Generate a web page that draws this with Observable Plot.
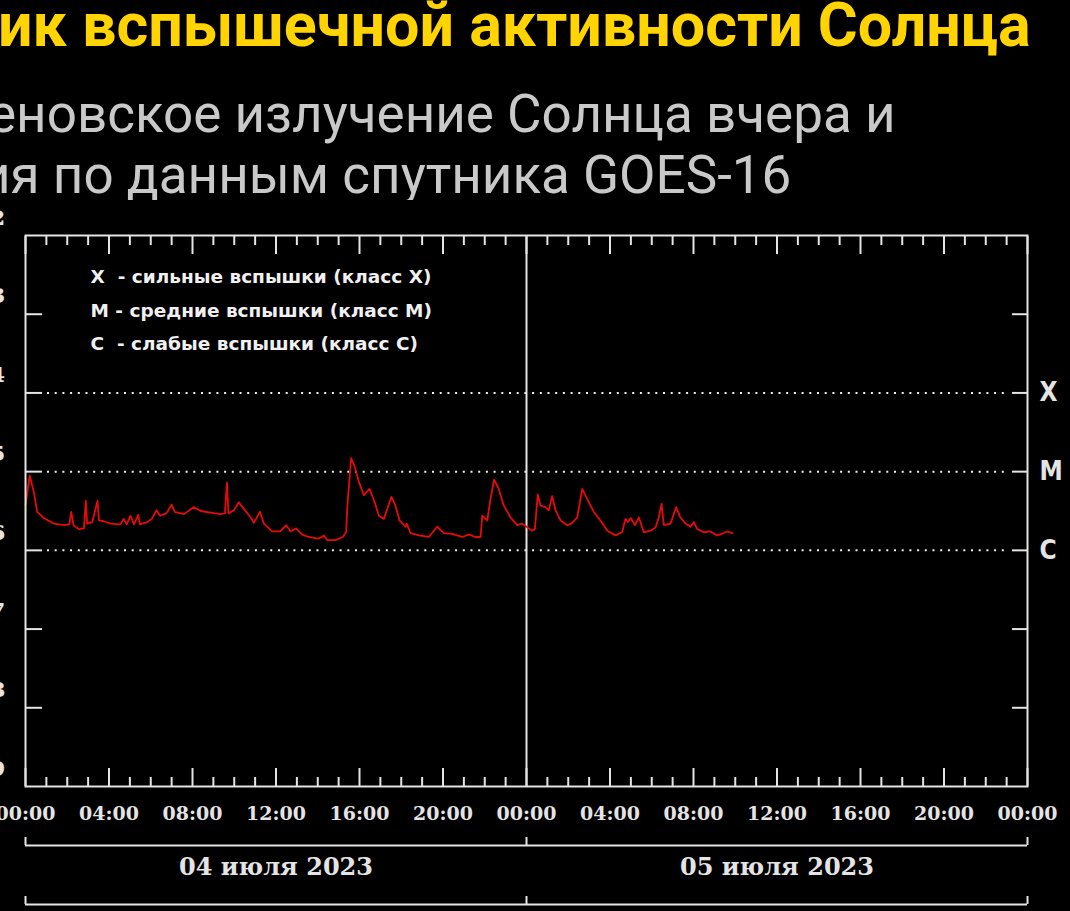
<!DOCTYPE html>
<html><head><meta charset="utf-8">
<script src="https://cdn.jsdelivr.net/npm/d3@7"></script>
<script src="https://cdn.jsdelivr.net/npm/@observablehq/plot@0.6"></script>
<style>
html,body{margin:0;padding:0;background:#000;width:1070px;height:911px;overflow:hidden;position:relative}
.title{position:absolute;left:-2px;top:-5px;font-family:Roboto;font-weight:bold;font-size:61px;line-height:61px;color:#ffd400;white-space:nowrap}
.sub{position:absolute;font-family:Roboto;font-size:53px;line-height:60px;color:#c9c9c9;white-space:nowrap}
#chart{position:absolute;left:0;top:200px}
</style></head><body>
<div class="title">ик вспышечной активности Солнца</div>
<div class="sub" style="left:-12px;top:84px">еновское излучение Солнца вчера и</div>
<div class="sub" style="left:-20px;top:145px">ия по данным спутника GOES-16</div>
<div id="chart"></div>
<script>
// hours since 2023-07-04 00:00 UTC
const hours = [0.0,0.2,0.4,0.56,0.88,1.36,1.84,2.1,2.19,2.3,2.55,2.8,2.89,2.95,3.2,3.45,3.52,3.75,4.07,4.55,4.7,4.85,5.03,5.2,5.4,5.48,5.83,6.05,6.28,6.45,6.75,7.0,7.15,7.6,8.06,8.4,8.86,9.34,9.55,9.65,9.72,9.98,10.22,10.45,10.78,10.94,11.23,11.42,11.5,11.82,12.2,12.49,12.7,12.97,13.25,13.57,14.05,14.3,14.45,14.85,15.2,15.36,15.42,15.6,15.76,15.97,16.21,16.48,16.69,16.93,17.17,17.41,17.53,17.72,17.92,18.2,18.26,18.44,18.84,19.32,19.72,20.04,20.44,20.92,21.24,21.56,21.8,21.88,22.12,22.28,22.45,22.67,22.91,23.23,23.55,23.79,24.0,24.27,24.4,24.54,24.67,24.9,25.07,25.23,25.39,25.63,25.95,26.15,26.43,26.67,26.91,27.22,27.54,27.87,28.26,28.58,28.74,28.85,28.99,29.2,29.38,29.62,29.94,30.18,30.34,30.47,30.58,30.9,31.17,31.37,31.62,31.86,32.02,32.18,32.49,32.81,33.13,33.45,33.6,33.87];
// log10 of X-ray flux (W/m²)
const logFlux = [-5.43,-5.05,-5.26,-5.51,-5.59,-5.66,-5.68,-5.67,-5.51,-5.68,-5.73,-5.72,-5.37,-5.66,-5.64,-5.37,-5.62,-5.63,-5.66,-5.67,-5.60,-5.67,-5.56,-5.67,-5.55,-5.67,-5.64,-5.60,-5.49,-5.56,-5.53,-5.42,-5.51,-5.54,-5.45,-5.50,-5.52,-5.54,-5.53,-5.14,-5.53,-5.49,-5.39,-5.47,-5.58,-5.65,-5.51,-5.66,-5.68,-5.76,-5.76,-5.68,-5.76,-5.72,-5.80,-5.83,-5.85,-5.81,-5.87,-5.87,-5.83,-5.77,-5.43,-4.83,-4.93,-5.13,-5.30,-5.22,-5.36,-5.56,-5.60,-5.41,-5.32,-5.43,-5.62,-5.70,-5.66,-5.78,-5.81,-5.83,-5.70,-5.78,-5.79,-5.83,-5.80,-5.83,-5.83,-5.56,-5.62,-5.34,-5.10,-5.22,-5.43,-5.58,-5.68,-5.66,-5.70,-5.75,-5.73,-5.29,-5.43,-5.45,-5.49,-5.31,-5.49,-5.62,-5.68,-5.66,-5.58,-5.22,-5.35,-5.51,-5.62,-5.75,-5.81,-5.77,-5.60,-5.64,-5.59,-5.68,-5.58,-5.77,-5.75,-5.71,-5.58,-5.41,-5.68,-5.66,-5.45,-5.58,-5.66,-5.70,-5.64,-5.73,-5.77,-5.76,-5.81,-5.78,-5.76,-5.78];

const dayStarts = ["2023-07-04T00:00Z", "2023-07-05T00:00Z", "2023-07-06T00:00Z"];
const dayLabels = ["04 июля 2023", "05 июля 2023"];
const decadeExponents = [-9, -8, -7, -6, -5, -4, -3, -2];
const classLetters = ["X", "M", "C"];
const classExponents = [-4, -5, -6];
const legendLetters = ["X ", "M", "C "];
const legendTexts = ["- сильные вспышки (класс X)", "- средние вспышки (класс M)", "- слабые вспышки (класс C)"];

const t0 = new Date(dayStarts[0]);
const t1 = new Date(dayStarts[2]);
const series = hours.map((h, i) => ({time: new Date(+t0 + h * 3600e3), flux: Math.pow(10, logFlux[i])}));
const decades = decadeExponents.map(e => Math.pow(10, e));
const classLevels = classExponents.map(e => Math.pow(10, e));
const innerDecades = decades.slice(1, -1);
const yMin = decades[0], yMax = decades[decades.length - 1];
const allHours = d3.utcHour.range(t0, new Date(+t1 + 1));
const majorHours = allHours.filter(d => d.getUTCHours() % 4 === 0);
const minorHours = allHours.filter(d => d.getUTCHours() % 4 !== 0);
const boundaries = dayStarts.map(d => new Date(d));
const days = dayLabels.map((label, i) => ({label, mid: new Date((+boundaries[i] + +boundaries[i + 1]) / 2)}));
const supers = {"0":"⁰","1":"¹","2":"²","3":"³","4":"⁴","5":"⁵","6":"⁶","7":"⁷","8":"⁸","9":"⁹","-":"⁻"};
const expOf = d => Math.round(Math.log10(d));
const expLabel = d => "10" + String(expOf(d)).split("").map(c => supers[c]).join("");
const classLabel = d => classLetters[classExponents.indexOf(expOf(d))] || "";
const legend = legendLetters.map((l, i) => l + " " + legendTexts[i]).join("\n");
const blank = () => "";
const axisColor = "#e4e4e4";

const plot = Plot.plot({
  width: 1070,
  height: 711,
  marginLeft: 25,
  marginRight: 43,
  marginTop: 35,
  marginBottom: 125,
  style: {background: "#000", color: axisColor, fontFamily: "DejaVu Serif", fontWeight: "bold", fontSize: "18px", overflow: "visible"},
  x: {type: "utc", domain: [t0, t1]},
  y: {type: "log", domain: [yMin, yMax]},
  marks: [
    Plot.ruleY(classLevels, {stroke: "#f0f0f0", strokeWidth: 2, strokeDasharray: "2,5.7", insetLeft: 22, insetRight: 18}),
    Plot.ruleX([boundaries[1]], {stroke: axisColor, strokeWidth: 2}),
    Plot.line(series, {x: "time", y: "flux", stroke: "#e60a0a", strokeWidth: 1.8}),
    // top and bottom hour ticks (inward)
    Plot.axisX({anchor: "bottom", ticks: minorHours, tickSize: -9, tickFormat: blank, label: null, strokeWidth: 2}),
    Plot.axisX({anchor: "bottom", ticks: majorHours, tickSize: -18, tickFormat: blank, label: null, strokeWidth: 2}),
    Plot.axisX({anchor: "top", ticks: minorHours, tickSize: -9, tickFormat: blank, label: null, strokeWidth: 2}),
    Plot.axisX({anchor: "top", ticks: majorHours, tickSize: -18, tickFormat: blank, label: null, strokeWidth: 2}),
    Plot.axisX({anchor: "bottom", ticks: majorHours, tickSize: 0, tickPadding: 20, tickFormat: "%H:%M", label: null, fontSize: 19, fontWeight: "bold", fontFamily: "DejaVu Serif"}),
    // day brackets
    Plot.ruleY([yMin], {dy: 59, stroke: axisColor, strokeWidth: 2}),
    Plot.ruleY([yMin], {dy: 118, stroke: axisColor, strokeWidth: 2}),
    Plot.axisX({anchor: "bottom", ticks: boundaries, tickSize: -8, dy: 59, tickFormat: blank, label: null, strokeWidth: 2}),
    Plot.axisX({anchor: "bottom", ticks: boundaries, tickSize: -8, dy: 118, tickFormat: blank, label: null, strokeWidth: 2}),
    Plot.text(days, {x: "mid", text: "label", frameAnchor: "bottom", dy: 88, fontSize: 24, fontWeight: "bold", fontFamily: "DejaVu Serif", fill: axisColor}),
    // y axes
    Plot.axisY({anchor: "left", ticks: innerDecades, tickSize: -17, tickFormat: blank, label: null, strokeWidth: 2}),
    Plot.axisY({anchor: "right", ticks: innerDecades, tickSize: -16, tickFormat: blank, label: null, strokeWidth: 2}),
    Plot.axisY({anchor: "left", ticks: decades, tickSize: 0, tickPadding: 20, tickFormat: expLabel, label: null, dy: -10, fontSize: 38, fontFamily: "DejaVu Serif"}),
    Plot.axisY({anchor: "right", ticks: classLevels, tickSize: 0, tickPadding: 12, tickFormat: classLabel, label: null, fontSize: 26, fontWeight: "bold", fontFamily: "DejaVu Sans Condensed, DejaVu Sans"}),
    Plot.text([legend], {text: d => d, frameAnchor: "top-left", dx: 65, dy: 24, lineAnchor: "top", textAnchor: "start", lineHeight: 1.81, fontSize: 18.5, fontWeight: "bold", fontFamily: "DejaVu Sans", fill: "#f0f0f0"}),
    Plot.frame({stroke: axisColor, strokeWidth: 2})
  ]
});
document.getElementById("chart").appendChild(plot);
</script>
</body></html>
